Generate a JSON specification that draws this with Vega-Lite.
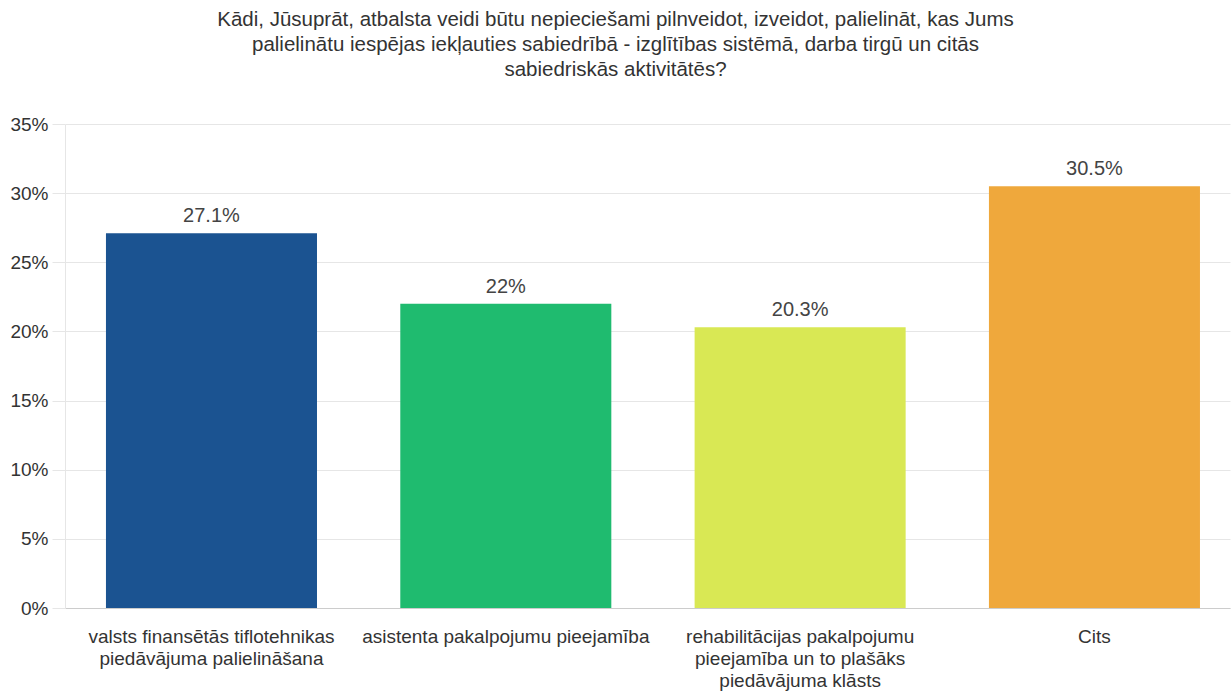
{
  "$schema": "https://vega.github.io/schema/vega-lite/v6.json",
  "autosize": {"type": "none"},
  "width": 1165,
  "height": 484,
  "padding": {"left": 65, "top": 124, "right": 1, "bottom": 84},
  "background": "white",
  "title": {
    "text": ["Kādi, Jūsuprāt, atbalsta veidi būtu nepieciešami pilnveidot, izveidot, palielināt, kas Jums", "palielinātu iespējas iekļauties sabiedrībā - izglītības sistēmā, darba tirgū un citās", "sabiedriskās aktivitātēs?"],
    "font": "Liberation Sans",
    "fontSize": 20.5,
    "fontWeight": "normal",
    "color": "#333333",
    "lineHeight": 25,
    "anchor": "middle",
    "dx": -32,
    "offset": 35
  },
  "data": {
    "values": [
      {"category": "valsts finansētās tiflotehnikas piedāvājuma palielināšana", "share": 0.271},
      {"category": "asistenta pakalpojumu pieejamība", "share": 0.22},
      {"category": "rehabilitācijas pakalpojumu pieejamība un to plašāks piedāvājuma klāsts", "share": 0.203},
      {"category": "Cits", "share": 0.305}
    ]
  },
  "encoding": {
    "x": {
      "field": "category",
      "type": "nominal",
      "sort": null,
      "scale": {"paddingInner": 0.283, "paddingOuter": 0.1206, "align": 0.577},
      "axis": {
        "title": null,
        "labelAngle": 0,
        "labelFont": "Liberation Sans",
        "labelFontSize": 19,
        "labelColor": "#333333",
        "labelLineHeight": 22,
        "labelPadding": 19,
        "labelLimit": 400,
        "ticks": false,
        "domainColor": "#cccccc",
        "labelExpr": "datum.value == 'valsts finansētās tiflotehnikas piedāvājuma palielināšana' ? ['valsts finansētās tiflotehnikas', 'piedāvājuma palielināšana'] : datum.value == 'rehabilitācijas pakalpojumu pieejamība un to plašāks piedāvājuma klāsts' ? ['rehabilitācijas pakalpojumu', 'pieejamība un to plašāks', 'piedāvājuma klāsts'] : datum.value"
      }
    },
    "y": {
      "field": "share",
      "type": "quantitative",
      "scale": {"domain": [0, 0.35]},
      "axis": {
        "title": null,
        "values": [0, 0.05, 0.1, 0.15, 0.2, 0.25, 0.3, 0.35],
        "format": "~%",
        "labelFont": "Liberation Sans",
        "labelFontSize": 19,
        "labelColor": "#333333",
        "labelPadding": 4,
        "tickSize": 13,
        "tickColor": "#e6e6e6",
        "gridColor": "#e6e6e6",
        "domainColor": "#e6e6e6"
      }
    }
  },
  "layer": [
    {
      "mark": {"type": "bar"},
      "encoding": {
        "color": {
          "field": "category",
          "type": "nominal",
          "sort": null,
          "legend": null,
          "scale": {"range": ["#1b5391", "#1fbb6f", "#d9e854", "#efa83c"]}
        }
      }
    },
    {
      "mark": {"type": "text", "dy": -17, "font": "Liberation Sans", "fontSize": 20, "color": "#444444"},
      "encoding": {
        "text": {"field": "share", "type": "quantitative", "format": ".3~%"}
      }
    }
  ],
  "config": {"view": {"stroke": null}}
}
